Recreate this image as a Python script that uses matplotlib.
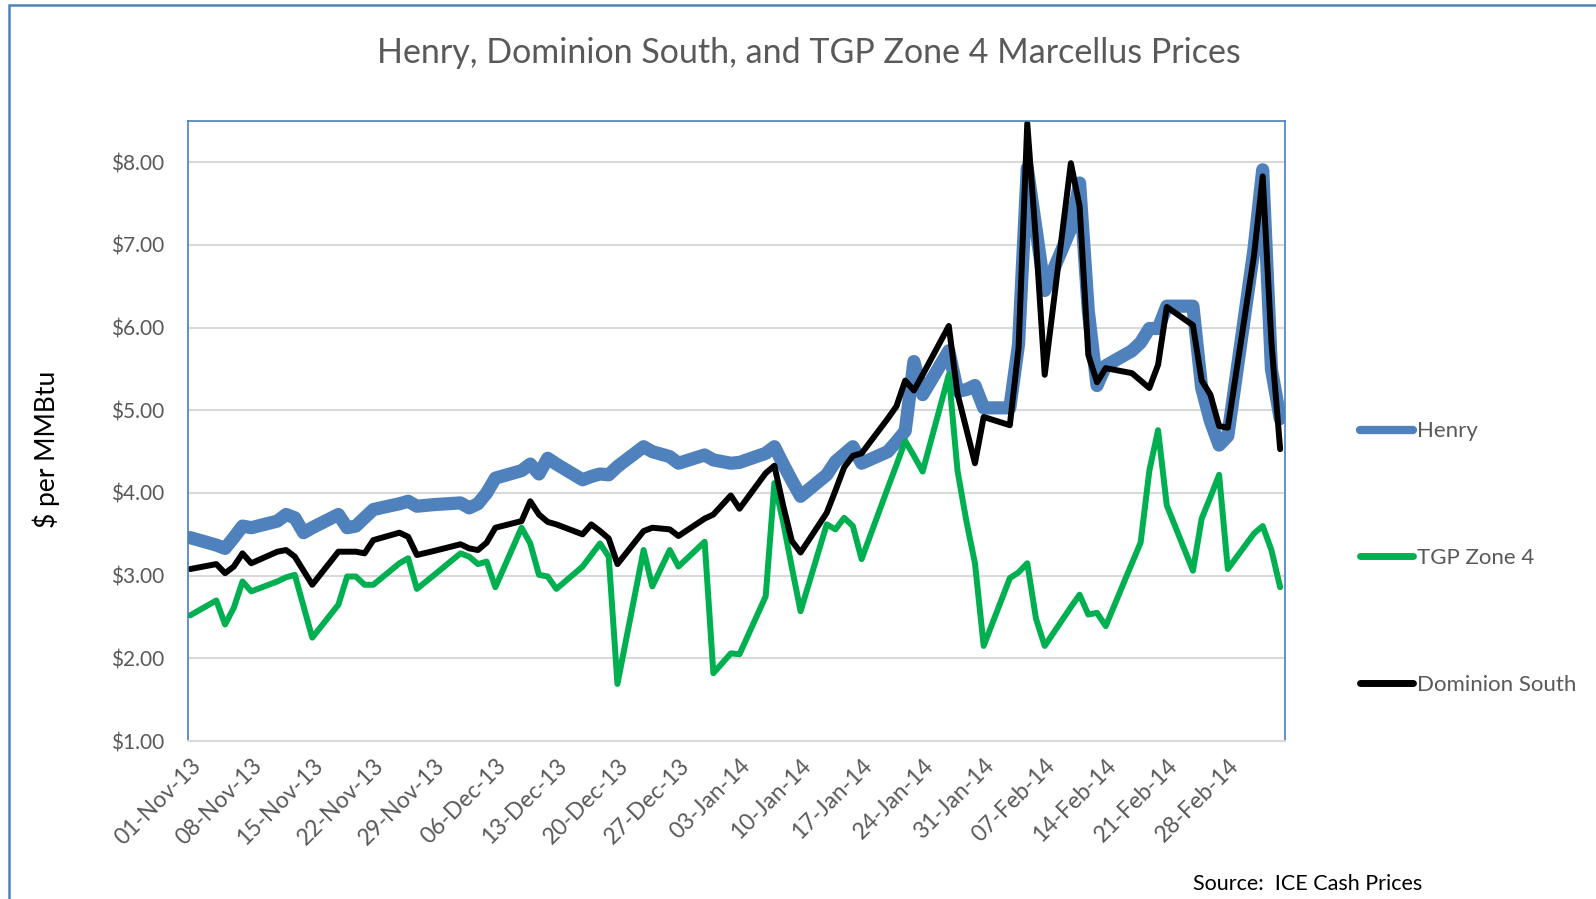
import pandas as pd
import matplotlib
matplotlib.use("Agg")
import matplotlib.pyplot as plt
import matplotlib.dates as mdates
from matplotlib.lines import Line2D
from matplotlib.patches import Rectangle
from matplotlib.ticker import FuncFormatter

plt.rcParams["font.family"] = ["Lato", "DejaVu Sans"]

# Trading days (ICE cash), holidays skipped
dates = pd.bdate_range("2013-11-01", "2014-03-06").drop(
    pd.to_datetime(["2013-11-28", "2013-12-25", "2014-01-01"]))

# $ per MMBtu
henry = [
    3.46, 3.37, 3.33, 3.46, 3.60, 3.58, 3.66, 3.74, 3.70, 3.52, 3.58, 3.74, 3.58, 3.60, 3.70, 3.80, 3.87, 3.90, 3.84, 3.86,
    3.88, 3.82, 3.87, 4.00, 4.18, 4.27, 4.35, 4.23, 4.42, 4.35, 4.16, 4.20, 4.23, 4.22, 4.32, 4.56, 4.50, 4.44, 4.36, 4.46, 4.40,
    4.36, 4.37, 4.48, 4.56, 4.35, 4.15, 3.96, 4.22, 4.38, 4.47, 4.56, 4.36, 4.50, 4.62, 4.75, 5.59, 5.19, 5.72, 5.23, 5.25, 5.30, 5.03,
    5.03, 5.80, 7.93, 7.20, 6.45, 7.20, 7.75, 6.20, 5.30, 5.54, 5.72, 5.82, 5.99, 5.99, 6.26, 6.26, 5.27, 4.87, 4.58, 4.69,
    6.95, 7.91, 5.50, 4.90,
]
tgp_z4 = [
    2.52, 2.70, 2.41, 2.61, 2.93, 2.81, 2.93, 2.98, 3.01, 2.63, 2.25, 2.65, 2.99, 2.99, 2.89, 2.89, 3.15, 3.21, 2.84, 3.01,
    3.27, 3.23, 3.14, 3.17, 2.86, 3.58, 3.39, 3.01, 2.99, 2.84, 3.11, 3.25, 3.39, 3.23, 1.69, 3.31, 2.87, 3.31, 3.11, 3.41, 1.82,
    2.06, 2.05, 2.75, 4.12, 3.65, 3.10, 2.57, 3.62, 3.56, 3.70, 3.60, 3.20, 4.06, 4.34, 4.63, 4.45, 4.26, 5.43, 4.27, 3.67, 3.15, 2.15,
    2.97, 3.04, 3.15, 2.48, 2.15, 2.62, 2.77, 2.53, 2.55, 2.39, 3.15, 3.40, 4.27, 4.76, 3.85, 3.06, 3.69, 3.95, 4.22, 3.08,
    3.51, 3.60, 3.31, 2.86,
]
dominion = [
    3.08, 3.14, 3.03, 3.11, 3.27, 3.15, 3.29, 3.31, 3.23, 3.06, 2.89, 3.29, 3.29, 3.29, 3.27, 3.43, 3.52, 3.47, 3.25, 3.30,
    3.38, 3.33, 3.31, 3.40, 3.58, 3.66, 3.90, 3.74, 3.65, 3.62, 3.50, 3.62, 3.54, 3.45, 3.14, 3.54, 3.58, 3.56, 3.48, 3.69, 3.74,
    3.97, 3.81, 4.24, 4.33, 3.85, 3.42, 3.28, 3.76, 4.03, 4.31, 4.45, 4.48, 4.90, 5.05, 5.36, 5.24, 5.43, 6.02, 5.20, 4.78, 4.36, 4.92,
    4.82, 5.75, 8.47, 7.05, 5.43, 7.99, 7.47, 5.67, 5.34, 5.51, 5.45, 5.36, 5.27, 5.55, 6.25, 6.03, 5.36, 5.19, 4.81, 4.79,
    6.87, 7.83, 5.82, 4.53,
]

gray_txt = "#595959"
c_henry = "#4F81BD"
c_tgp = "#00B050"
c_dom = "#000000"

fig = plt.figure(figsize=(15.96, 8.99), dpi=100, facecolor="white")
ax = fig.add_axes([188 / 1596, 1 - 741 / 899, (1284.5 - 188) / 1596, (741 - 121) / 899])

style = dict(solid_joinstyle="round", solid_capstyle="round")
ax.plot(dates, henry, color=c_henry, lw=9.5, label="Henry", **style)
ax.plot(dates, tgp_z4, color=c_tgp, lw=4.3, label="TGP Zone 4", **style)
ax.plot(dates, dominion, color=c_dom, lw=4.3, label="Dominion South", **style)

# axes
ax.set_ylim(1, 8.5)
ax.set_yticks(range(1, 9))
ax.yaxis.set_major_formatter(FuncFormatter(lambda v, p: f"${v:.2f}"))
ax.set_xlim(mdates.date2num(dates[0]) - 0.25, mdates.date2num(dates[-1]) + 0.5)
ticks = pd.date_range("2013-11-01", "2014-02-28", freq="7D")
ax.set_xticks(mdates.date2num(ticks))
ax.set_xticklabels([t.strftime("%d-%b-%y") for t in ticks], rotation=45,
                   ha="right", va="top", rotation_mode="anchor")
ax.tick_params(length=0, labelcolor=gray_txt)
ax.tick_params(axis="x", pad=10, labelsize=16.5)
ax.tick_params(axis="y", pad=17, labelsize=15)

ax.grid(axis="y", color="#D9D9D9", lw=1.5)
ax.set_axisbelow(True)
for s in ["left", "top", "right"]:
    ax.spines[s].set_color("#4A7EBB")
    ax.spines[s].set_linewidth(1.2)
ax.spines["bottom"].set_color("#D9D9D9")
ax.spines["bottom"].set_linewidth(1.5)

fig.text(46 / 1596, 1 - 449 / 899, "$ per MMBtu", rotation=90, ha="center", va="center",
         fontsize=19, color="black")

fig.text(809 / 1596, 1 - 53 / 899, "Henry, Dominion South, and TGP Zone 4 Marcellus Prices",
         ha="center", va="center", fontsize=24.5, color=gray_txt)

# legend on the right
handles = [Line2D([], [], color=c_henry, lw=6, solid_capstyle="round"),
           Line2D([], [], color=c_tgp, lw=5, solid_capstyle="round"),
           Line2D([], [], color=c_dom, lw=5, solid_capstyle="round")]
fig.legend(handles, ["Henry", "TGP Zone 4", "Dominion South"],
           loc="center left", bbox_to_anchor=(1360 / 1596, 1 - 558 / 899),
           frameon=False, fontsize=16, labelcolor=gray_txt, handlelength=2.4,
           handletextpad=0.18, labelspacing=4.8, borderpad=0, borderaxespad=0)

fig.text(1193 / 1596, 1 - 884 / 899, "Source:  ICE Cash Prices", ha="left", va="center",
         fontsize=15.5, color="black")

# chart area border, cut off at right and bottom in the original
fig.add_artist(Rectangle((9 / 1596, -0.1), 1.2, 1.1 - 5 / 899, transform=fig.transFigure,
                         fill=False, edgecolor=c_henry, lw=1.8, clip_on=False))

fig.savefig("out.png", dpi=100, facecolor="white")
